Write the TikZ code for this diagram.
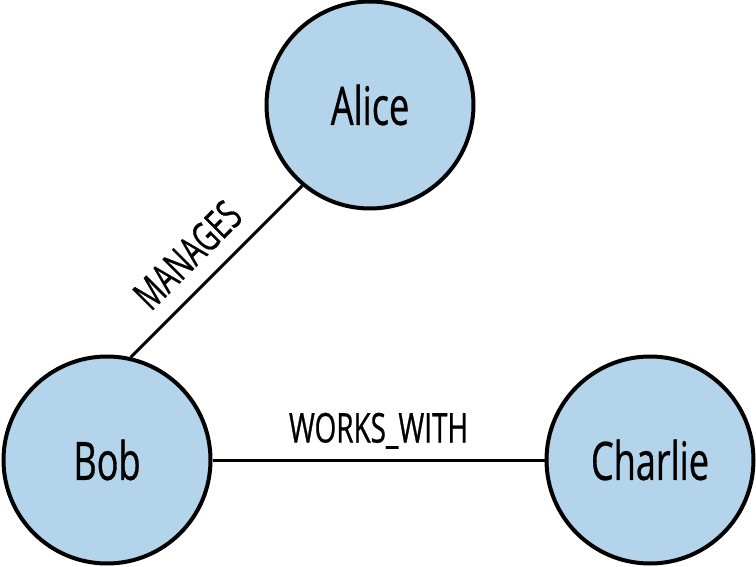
\documentclass[tikz,border=0pt]{standalone}
\usepackage{fontspec}
\setmainfont{Open Sans}[FakeStretch=0.68,FakeBold=0.6]
\definecolor{nodeblue}{RGB}{179,212,234}
\begin{document}
\begin{tikzpicture}[x=1pt,y=1pt,
  person/.style={circle,draw=black,line width=4pt,fill=nodeblue,minimum size=207pt,inner sep=0pt,font=\fontsize{53}{53}\selectfont},
  rel/.style={draw=black,line width=3pt},
  rellabel/.style={sloped,above=16pt,inner sep=0pt,text depth=0pt,font=\fontsize{41}{41}\selectfont}]
\useasboundingbox (0,0) rectangle (756,566);
\node[person] (alice) at (370,461) {Alice};
\node[person] (bob) at (107,106) {Bob};
\node[person] (charlie) at (650,106) {Charlie};
\draw[rel] (bob.77.6) -- node[rellabel,pos=0.463] (manages) {MANAGES} (alice.230.3);
\draw[rel] (bob.east) -- node[rellabel,pos=0.5] (works) {WORKS\_WITH} (charlie.west);
\end{tikzpicture}
\end{document}
